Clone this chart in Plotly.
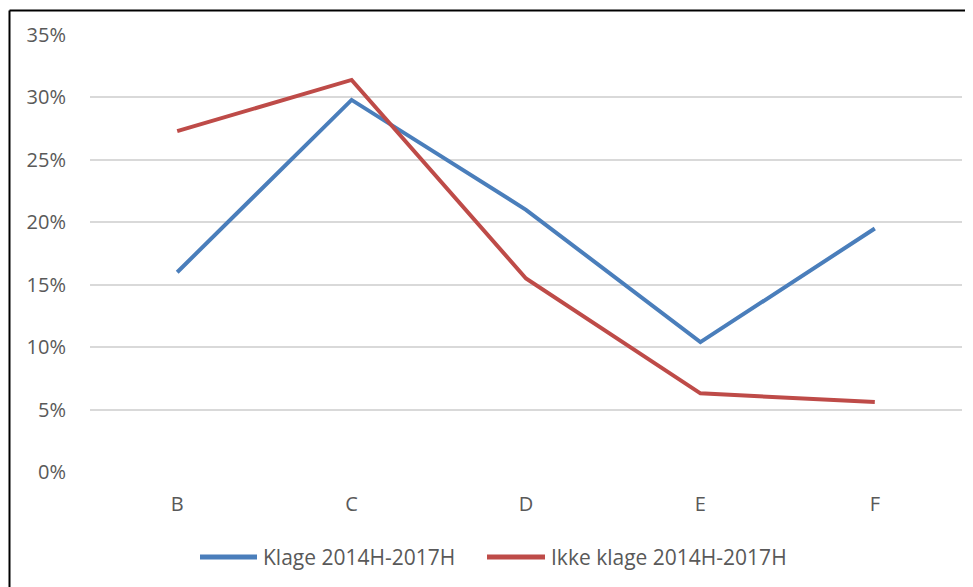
import plotly.graph_objects as go

categories = ["B", "C", "D", "E", "F"]
klage = [0.160, 0.298, 0.210, 0.104, 0.195]
ikke_klage = [0.273, 0.314, 0.155, 0.063, 0.056]
series_names = ["Klage 2014H-2017H", "Ikke klage 2014H-2017H"]
series_colors = ["#4A7EBB", "#BE4B48"]
y_ticks = [0, 0.05, 0.10, 0.15, 0.20, 0.25, 0.30, 0.35]
y_labels = ["0%", "5%", "10%", "15%", "20%", "25%", "30%", "35%"]

# page has an 8px body margin, so the figure is slightly smaller than the window
OFF = 8
W, H = 973 - OFF, 587 - OFF
L, R, T, B = 90 - OFF, 11, 35 - OFF, 115
pw, ph = W - L - R, H - T - B


def px(xw):  # window x -> paper x
    return (xw - OFF - L) / pw


def py(yw):  # window y -> paper y
    return (H - B - (yw - OFF)) / ph


fig = go.Figure()
for vals, name, col in zip([klage, ikke_klage], series_names, series_colors):
    fig.add_trace(go.Scatter(x=categories, y=vals, mode="lines", name=name,
                             line=dict(color=col, width=4), showlegend=False))

tick_font = dict(family="Open Sans", size=20, color="#595959")

fig.update_layout(
    width=W, height=H,
    margin=dict(l=L, r=R, t=T, b=B),
    paper_bgcolor="white", plot_bgcolor="white",
    font=tick_font,
    xaxis=dict(type="category", range=[-0.5, 4.5], showgrid=False, zeroline=False,
               showline=False, ticks="", ticklabelstandoff=18, tickfont=tick_font, fixedrange=True),
    yaxis=dict(range=[0, 0.35], tickvals=y_ticks, ticktext=y_labels, showgrid=True,
               gridcolor="#D9D9D9", gridwidth=2, zeroline=False, showline=False, ticks="",
               ticklabelstandoff=23, tickfont=tick_font, fixedrange=True),
)

# legend drawn manually (long line keys like the original)
legend_y = py(557)
legend_items = [(200, 257, 262), (487, 545, 550)]
for (lx0, lx1, tx), name, col in zip(legend_items, series_names, series_colors):
    fig.add_shape(type="line", xref="paper", yref="paper", x0=px(lx0), x1=px(lx1),
                  y0=legend_y, y1=legend_y, line=dict(color=col, width=5))
    fig.add_annotation(xref="paper", yref="paper", x=px(tx), y=legend_y, text=name,
                       showarrow=False, xanchor="left", yanchor="middle",
                       font=dict(family="Open Sans", size=21, color="#595959"), borderpad=0)

# outer chart border (top and left edges visible)
x0 = px(9.5)
y1 = py(10.5)
fig.add_shape(type="line", xref="paper", yref="paper", x0=x0, x1=1.2, y0=y1, y1=y1,
              line=dict(color="black", width=2))
fig.add_shape(type="line", xref="paper", yref="paper", x0=x0, x1=x0, y0=y1, y1=-0.5,
              line=dict(color="black", width=2))

fig.write_html("out.html")
